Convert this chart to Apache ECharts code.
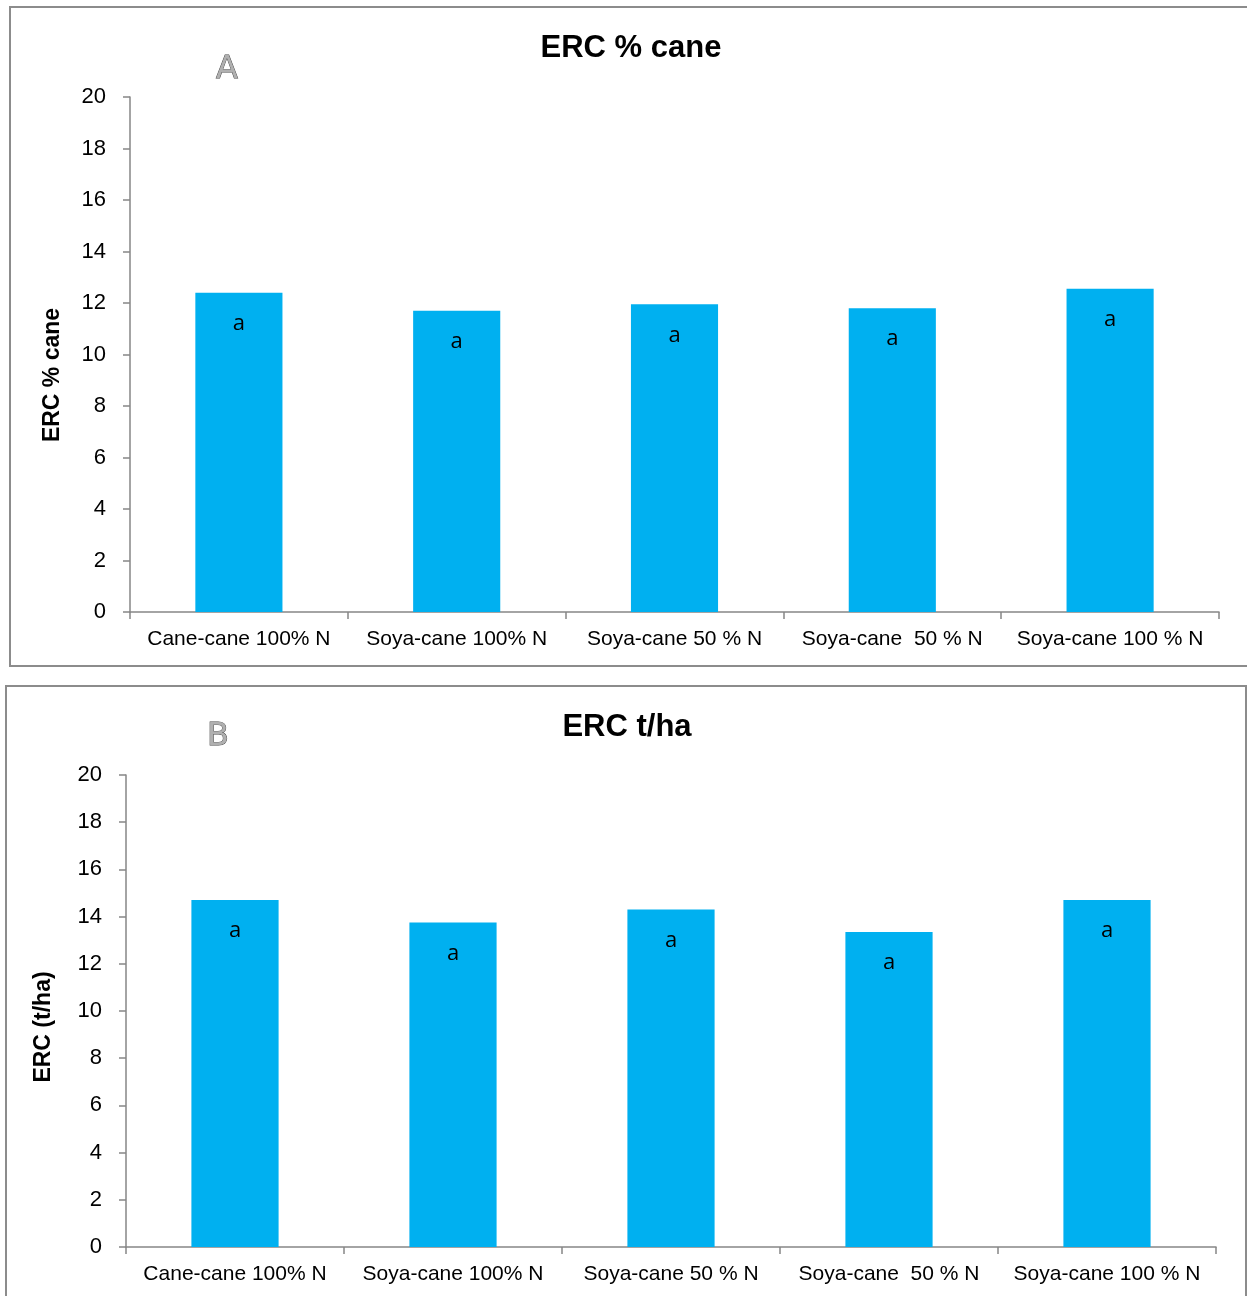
<!DOCTYPE html>
<html><head><meta charset="utf-8">
<script src="https://cdn.jsdelivr.net/npm/echarts@6/dist/echarts.min.js"></script>
<style>html,body{margin:0;padding:0;background:#fff}#c{width:1247px;height:1296px}</style>
</head><body><div id="c"></div>
<script>
const categories = ['Cane-cane 100% N', 'Soya-cane 100% N', 'Soya-cane 50 % N', 'Soya-cane  50 % N', 'Soya-cane 100 % N'];
const ercPctCane = [12.4, 11.7, 11.95, 11.8, 12.55];
const ercTHa = [14.7, 13.75, 14.3, 13.35, 14.7];
const letters = ['a', 'a', 'a', 'a', 'a'];
const yTicks = [0, 2, 4, 6, 8, 10, 12, 14, 16, 18, 20];

const chart = echarts.init(document.getElementById('c'));
const axisColor = '#868686';
const font = 'Liberation Sans, Arial, sans-serif';

function xAxis(gi){
  return {
    type:'category', gridIndex:gi, data:categories, boundaryGap:true,
    axisLine:{show:true, lineStyle:{color:axisColor, width:1.5}},
    axisTick:{show:true, alignWithLabel:false, length:7, lineStyle:{color:axisColor, width:1.5}},
    axisLabel:{color:'#000', fontSize:21, fontFamily:font, margin:17, interval:0}
  };
}
function yAxis(gi){
  return {
    type:'value', gridIndex:gi, min:yTicks[0], max:yTicks[yTicks.length-1], interval:2,
    axisLine:{show:true, lineStyle:{color:axisColor, width:1.5}},
    axisTick:{show:true, length:7, lineStyle:{color:axisColor, width:1.5}},
    axisLabel:{color:'#000', fontSize:22, fontFamily:font, margin:24},
    splitLine:{show:false}
  };
}
function series(gi, data){
  return {
    type:'bar', xAxisIndex:gi, yAxisIndex:gi, barWidth:'40%',
    data:data.map((v,i)=>({value:v, label:{formatter:letters[i]}})),
    itemStyle:{color:'#00B0F0'},
    label:{show:true, position:'insideTop', distance:20, color:'#000', fontSize:22, fontFamily:'Open Sans, sans-serif'},
    silent:true, animation:false
  };
}
function yName(text, x, y){
  return {type:'text', x:x, y:y, rotation:Math.PI/2, silent:true,
    style:{text:text, fontSize:23, fontWeight:'bold', fontFamily:font, fill:'#000', textAlign:'center', textVerticalAlign:'middle'}};
}

chart.setOption({
  animation:false,
  title:[
    {text:'ERC % cane', left:626, top:28, textAlign:'center', textStyle:{fontSize:31, fontWeight:'bold', color:'#000', fontFamily:font}},
    {text:'ERC t/ha', left:622, top:707, textAlign:'center', textStyle:{fontSize:31, fontWeight:'bold', color:'#000', fontFamily:font}}
  ],
  grid:[
    {left:130, top:97, width:1089, height:515},
    {left:126, top:775, width:1090, height:472}
  ],
  xAxis:[xAxis(0), xAxis(1)],
  yAxis:[yAxis(0), yAxis(1)],
  series:[series(0, ercPctCane), series(1, ercTHa)],
  graphic:[
    {type:'rect', shape:{x:10, y:7, width:1250, height:659}, style:{fill:'none', stroke:'#8c8c8c', lineWidth:2}, silent:true},
    {type:'rect', shape:{x:6, y:686, width:1240, height:620}, style:{fill:'none', stroke:'#8c8c8c', lineWidth:2}, silent:true},
    {type:'text', x:227, y:70, style:{text:'A', fontSize:32, fontFamily:'DejaVu Sans', fill:'#b0b0b0', stroke:'#444', lineWidth:0.9, textAlign:'center', textVerticalAlign:'middle'}, silent:true},
    {type:'text', x:218, y:737, style:{text:'B', fontSize:32, fontFamily:'DejaVu Sans', fill:'#b0b0b0', stroke:'#444', lineWidth:0.9, textAlign:'center', textVerticalAlign:'middle'}, silent:true},
    yName('ERC % cane', 53, 375),
    yName('ERC (t/ha)', 44, 1027)
  ]
});
</script></body></html>
